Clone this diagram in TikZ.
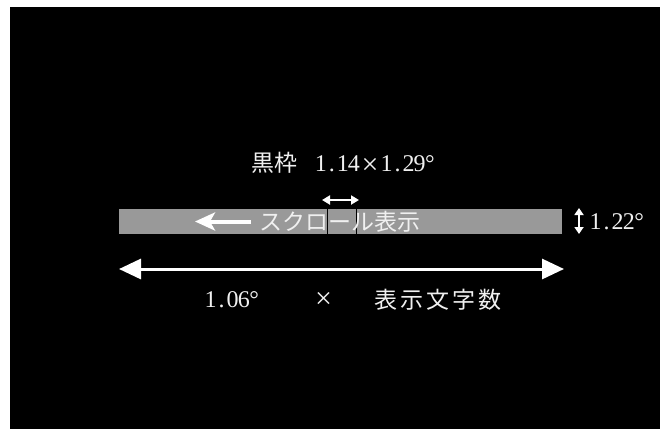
\documentclass[tikz,border=0pt]{standalone}
\usepackage{fontspec}
\setmainfont{Liberation Serif}
\newfontfamily\cjk{Noto Sans CJK JP}
\usetikzlibrary{arrows.meta}
\definecolor{barg}{RGB}{153,153,153}
\definecolor{txt}{RGB}{240,240,240}
\newcommand\hc[1]{\makebox[0.46em]{#1}}
\newcommand\cw[1]{\makebox[26pt]{#1}}
\newcommand\bigx{\raisebox{-3pt}{\fontsize{30}{30}\selectfont ×}}
\tikzset{
  lbl/.style={text=txt, inner sep=0pt, font=\fontsize{24}{28}\selectfont},
  bar/.style={fill=barg, draw=none, minimum width=443pt, minimum height=25pt, inner sep=0pt},
  sep/.style={draw=black, line width=0.8pt},
  dim/.style={draw=white, line width=2pt, {Triangle[length=8pt,width=9pt]}-{Triangle[length=8pt,width=9pt]}},
  bigdim/.style={draw=white, line width=3pt, {Triangle[length=22pt,width=20pt]}-{Triangle[length=22pt,width=20pt]}},
  scroll/.style={draw=white, line width=4pt, -{Stealth[length=20pt,width=18pt,inset=5pt]}}
}
\begin{document}
\begin{tikzpicture}[x=1pt,y=-1pt]
\useasboundingbox (0,0) rectangle (660,429);
\fill[white] (0,0) rectangle (660,429);
\fill[black] (10,7) rectangle (660,429);

% title
\node[lbl] (title) at (343,163) {{\fontsize{23}{26}\selectfont\cjk 黒枠}\hspace{18pt}\hc{1}\hc{.}\hc{1}\hc{4}\makebox[0.9em]{\bigx}\hc{1}\hc{.}\hc{2}\hc{9}°};

% bar
\node[bar] (bar) at (340.5,221.5) {};
\coordinate (s1t) at (327,209); \coordinate (s1b) at (327,234);
\coordinate (s2t) at (356,209); \coordinate (s2b) at (356,234);
\draw[sep] (s1t) -- (s1b);
\draw[sep] (s2t) -- (s2b);

% scroll text and arrow
\node[lbl, font=\fontsize{23}{26}\selectfont\cjk] (scrolltext) at (340,221.5) {スクロール表示};
\coordinate (arA) at (251,221.5);
\coordinate (arB) at (195,221.5);
\draw[scroll] (arA) -- (arB);

% small width arrow
\coordinate (wa) at (322,200);
\coordinate (wb) at (359,200);
\draw[dim] (wa) -- (wb);

% vertical arrow and label
\coordinate (va) at (579,208);
\coordinate (vb) at (579,234);
\draw[draw=white, line width=2pt, {Triangle[length=7pt,width=9pt]}-{Triangle[length=7pt,width=9pt]}] (va) -- (vb);
\node[lbl] (hlabel) at (617,222) {\hc{1}\hc{.}\hc{2}\hc{2}°};

% long arrow
\coordinate (la) at (119,269);
\coordinate (lb) at (564,269);
\draw[bigdim] (la) -- (lb);

% bottom labels
\node[lbl] (deg) at (232,300) {\hc{1}\hc{.}\hc{0}\hc{6}°};
\node[lbl] (times) at (323.5,300) {\fontsize{30}{30}\selectfont ×};
\node[lbl, font=\fontsize{23}{26}\selectfont\cjk] (count) at (438,300) {\cw{表}\cw{示}\cw{文}\cw{字}\cw{数}};
\end{tikzpicture}
\end{document}
